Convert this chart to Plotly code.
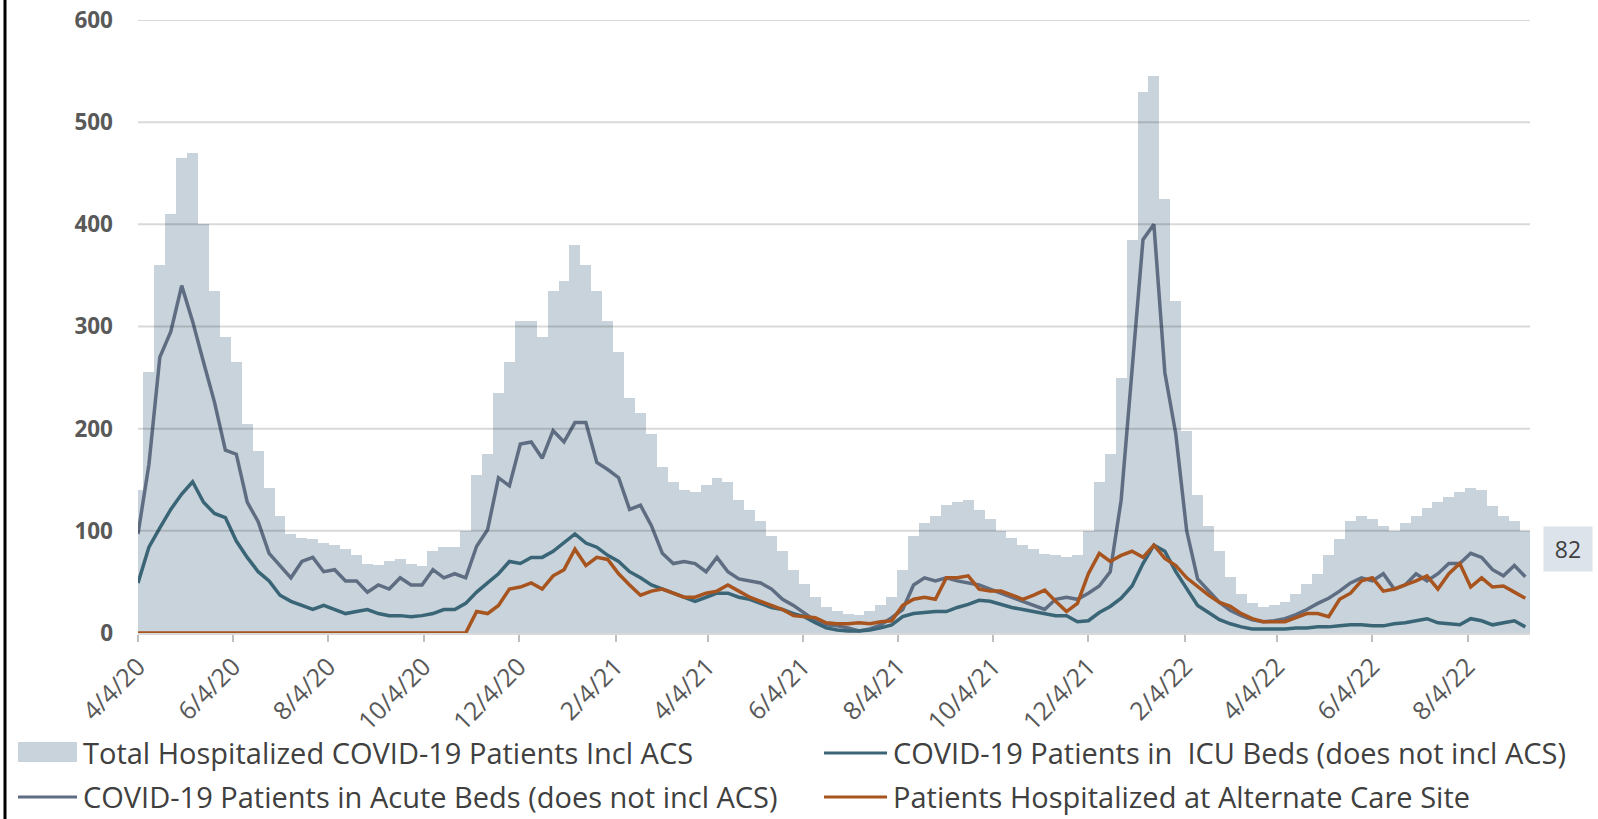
import pandas as pd
import plotly.graph_objects as go

# ---------------- data (weekly readings from the chart) ----------------
start_date = "2020-04-04"
n_weeks = 128
week_dates = pd.date_range(start_date, periods=n_weeks, freq="7D")

total_hospitalized = [
    140, 255, 360, 410, 465, 470, 400, 335, 290, 265,
    205, 178, 142, 115, 97, 93, 92, 88, 86, 82,
    76, 68, 67, 70, 72, 68, 66, 80, 84, 84,
    100, 155, 175, 235, 265, 305, 305, 290, 335, 345,
    380, 360, 335, 305, 275, 230, 215, 195, 162, 148,
    140, 138, 145, 152, 148, 130, 120, 110, 95, 80,
    62, 48, 35, 25, 22, 19, 18, 22, 27, 35,
    62, 95, 108, 115, 125, 128, 130, 120, 112, 100,
    93, 86, 82, 77, 76, 74, 76, 100, 148, 175,
    250, 385, 530, 545, 425, 325, 198, 135, 105, 80,
    55, 38, 29, 25, 27, 30, 38, 48, 58, 76,
    92, 110, 115, 112, 105, 100, 108, 115, 122, 128,
    133, 138, 142, 140, 124, 115, 110, 100,
]

acute_beds = [
    97, 165, 270, 295, 340, 305, 265, 226, 179, 175,
    128, 109, 78, 66, 54, 70, 74, 60, 62, 51,
    51, 40, 47, 43, 54, 47, 47, 62, 54, 58,
    54, 85, 101, 152, 144, 185, 187, 171, 198, 187,
    206, 206, 167, 160, 152, 121, 125, 105, 78, 68,
    70, 68, 60, 74, 60, 53, 51, 49, 43, 33,
    27, 19, 12, 8, 7, 5, 2, 4, 8, 15,
    23, 47, 54, 51, 54, 51, 49, 47, 43, 39,
    35, 31, 27, 23, 33, 35, 33, 39, 46, 60,
    130, 262, 385, 400, 255, 195, 100, 53, 42, 30,
    22, 17, 13, 11, 12, 14, 18, 23, 29, 34,
    41, 49, 54, 51, 58, 43, 47, 58, 51, 58,
    68, 68, 78, 74, 62, 56, 66, 55,
]

icu_beds = [
    49, 84, 103, 121, 136, 148, 128, 117, 113, 90,
    74, 60, 51, 37, 31, 27, 23, 27, 23, 19,
    21, 23, 19, 17, 17, 16, 17, 19, 23, 23,
    29, 40, 49, 58, 70, 68, 74, 74, 80, 88,
    97, 88, 84, 76, 70, 60, 54, 47, 43, 39,
    35, 31, 35, 39, 39, 35, 33, 29, 25, 23,
    19, 16, 10, 5, 3, 2, 2, 3, 5, 8,
    16, 19, 20, 21, 21, 25, 28, 32, 31, 28,
    25, 23, 21, 19, 17, 17, 11, 12, 20, 26,
    34, 46, 68, 86, 80, 60, 44, 27, 20, 13,
    9, 6, 4, 4, 4, 4, 5, 5, 6, 6,
    7, 8, 8, 7, 7, 9, 10, 12, 14, 10,
    9, 8, 14, 12, 8, 10, 12, 6,
]

alternate_care_site = [
    0, 0, 0, 0, 0, 0, 0, 0, 0, 0,
    0, 0, 0, 0, 0, 0, 0, 0, 0, 0,
    0, 0, 0, 0, 0, 0, 0, 0, 0, 0,
    0, 21, 19, 27, 43, 45, 49, 43, 56, 62,
    82, 66, 74, 72, 58, 47, 37, 41, 43, 39,
    35, 35, 39, 41, 47, 41, 35, 31, 27, 23,
    17, 16, 15, 10, 9, 9, 10, 9, 11, 12,
    27, 33, 35, 33, 54, 54, 56, 43, 41, 41,
    37, 33, 37, 42, 31, 21, 29, 58, 78, 70,
    76, 80, 74, 86, 73, 66, 54, 45, 37, 30,
    26, 19, 14, 11, 11, 11, 15, 19, 19, 16,
    33, 39, 51, 54, 41, 43, 47, 51, 56, 43,
    58, 68, 45, 54, 45, 46, 40, 34,
]

tick_dates = ["2020-04-04", "2020-06-04", "2020-08-04", "2020-10-04", "2020-12-04",
              "2021-02-04", "2021-04-04", "2021-06-04", "2021-08-04", "2021-10-04",
              "2021-12-04", "2022-02-04", "2022-04-04", "2022-06-04", "2022-08-04"]
tick_text = ["4/4/20", "6/4/20", "8/4/20", "10/4/20", "12/4/20",
             "2/4/21", "4/4/21", "6/4/21", "8/4/21", "10/4/21",
             "12/4/21", "2/4/22", "4/4/22", "6/4/22", "8/4/22"]
y_ticks = [0, 100, 200, 300, 400, 500, 600]
x_range = ["2020-04-04", "2022-09-13"]
last_total_label = 82

name_total = "Total Hospitalized COVID-19 Patients Incl ACS"
name_icu = "COVID-19 Patients in  ICU Beds (does not incl ACS)"
name_acute = "COVID-19 Patients in Acute Beds (does not incl ACS)"
name_acs = "Patients Hospitalized at Alternate Care Site"

# ---------------- styling ----------------
C_TOTAL = "#C8D3DB"
C_ACUTE = "#5F6D83"
C_ICU = "#3A6577"
C_ACS = "#A8541F"
TXT = "#595959"
TEXT_FONT = "'Open Sans', sans-serif"

FIG_W, FIG_H = 1598, 819
M_L, M_R, M_T, M_B = 138, 68, 20, 186
PW = FIG_W - M_L - M_R
PH = FIG_H - M_T - M_B


def px_x(px):
    return (px - M_L) / PW


def px_y(py):
    return (FIG_H - M_B - py) / PH


fig = go.Figure()
fig.add_trace(go.Bar(x=week_dates, y=total_hospitalized, name=name_total,
                     marker=dict(color=C_TOTAL, line=dict(width=0)),
                     width=7 * 24 * 3600 * 1000, showlegend=False))
fig.add_trace(go.Scatter(x=week_dates, y=acute_beds, name=name_acute, mode="lines",
                         line=dict(color=C_ACUTE, width=3.5), showlegend=False))
fig.add_trace(go.Scatter(x=week_dates, y=icu_beds, name=name_icu, mode="lines",
                         line=dict(color=C_ICU, width=3.5), showlegend=False))
fig.add_trace(go.Scatter(x=week_dates, y=alternate_care_site, name=name_acs, mode="lines",
                         line=dict(color=C_ACS, width=3.5), showlegend=False))

shapes = []
# gridlines drawn above the bars (semi-transparent, like the original)
for v in y_ticks[1:]:
    shapes.append(dict(type="line", xref="paper", yref="y", x0=0, x1=1, y0=v, y1=v,
                       line=dict(color="rgba(0,0,0,0.15)", width=2), layer="above"))
# left black border of the picture
shapes.append(dict(type="line", xref="paper", yref="paper", x0=px_x(5), x1=px_x(5),
                   y0=px_y(FIG_H), y1=px_y(0), line=dict(color="black", width=3)))

# manual legend
legend_items = [
    (18, 77, 752, "rect", C_TOTAL, name_total),
    (824, 887, 752, "line", C_ICU, name_icu),
    (18, 77, 796, "line", C_ACUTE, name_acute),
    (824, 887, 796, "line", C_ACS, name_acs),
]
annotations = []
for x0, x1, yc, kind, col, label in legend_items:
    if kind == "rect":
        shapes.append(dict(type="rect", xref="paper", yref="paper",
                           x0=px_x(x0), x1=px_x(x1), y0=px_y(yc + 10), y1=px_y(yc - 10),
                           fillcolor=col, line=dict(width=0)))
    else:
        shapes.append(dict(type="line", xref="paper", yref="paper",
                           x0=px_x(x0), x1=px_x(x1), y0=px_y(yc + 1), y1=px_y(yc + 1),
                           line=dict(color=col, width=3)))
    annotations.append(dict(xref="paper", yref="paper", x=px_x(x1 + 4), y=px_y(yc),
                            xanchor="left", yanchor="middle", showarrow=False, text=label,
                            font=dict(family=TEXT_FONT, size=29, color="#404040")))

# last value label
annotations.append(dict(xref="paper", yref="y", x=px_x(1568), y=last_total_label,
                        xanchor="center", yanchor="middle", showarrow=False,
                        text=str(last_total_label), bgcolor="#DCE3EA", width=46, height=42,
                        font=dict(family=TEXT_FONT, size=23, color="#404040")))

fig.update_layout(
    width=FIG_W, height=FIG_H,
    margin=dict(l=M_L, r=M_R, t=M_T, b=M_B, autoexpand=False),
    paper_bgcolor="white", plot_bgcolor="white",
    bargap=0, showlegend=False,
    shapes=shapes, annotations=annotations,
    xaxis=dict(type="date", range=x_range, tickmode="array", tickvals=tick_dates,
               ticktext=tick_text, tickangle=-45, showgrid=False, automargin=False,
               showline=True, linecolor="#D9D9D9", linewidth=2,
               ticks="outside", ticklen=7, tickcolor="#BFBFBF", tickwidth=1.5,
               tickfont=dict(family=TEXT_FONT, size=25, color=TXT)),
    yaxis=dict(range=[0, 600], tickmode="array", tickvals=y_ticks, showgrid=False,
               zeroline=False, showline=False, ticks="", ticklabelstandoff=24,
               automargin=False,
               tickfont=dict(family=TEXT_FONT, size=22.5, color=TXT, weight="bold")),
)

fig.write_html("out.html", config={"displayModeBar": False},
               post_script="document.body.style.margin='0';")
